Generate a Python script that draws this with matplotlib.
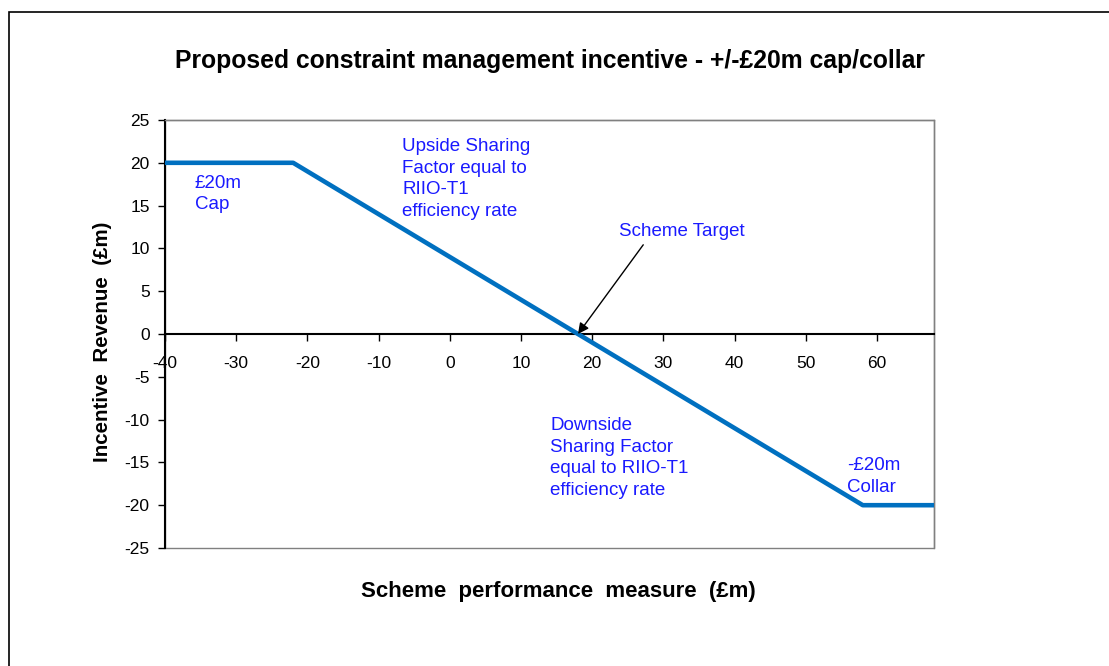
import matplotlib
matplotlib.use("Agg")
import matplotlib.pyplot as plt
from matplotlib.patches import Rectangle

plt.rcParams['font.family'] = ['Liberation Sans', 'DejaVu Sans']
plt.rcParams['axes.unicode_minus'] = False

# Data
perf_x = [-40, -22, 58, 68]
revenue_y = [20, 20, -20, -20]
x_ticks = [-40, -30, -20, -10, 0, 10, 20, 30, 40, 50, 60]
y_ticks = [25, 20, 15, 10, 5, 0, -5, -10, -15, -20, -25]
target_x = 18
target_y = 0

title = "Proposed constraint management incentive - +/-\u00a320m cap/collar"
xlabel = "Scheme  performance  measure  (\u00a3m)"
ylabel = "Incentive  Revenue  (\u00a3m)"

blue_txt = "#1a1aff"
line_col = "#0070C0"
ann_fs = 13.5
ls = 1.36

fig = plt.figure(figsize=(11.09, 6.66), dpi=100)
# outer chart border
fig.patches.append(Rectangle((9/1109, -0.1), 1.2, 1 - 12/666 + 0.1, transform=fig.transFigure,
                             fill=False, edgecolor='black', linewidth=1.2))

ax = fig.add_axes([165/1109, 1 - 548/666, (934-165)/1109, (548-120)/666])

ax.plot(perf_x, revenue_y, color=line_col, linewidth=3.3, solid_capstyle='butt', zorder=3)

ax.set_xlim(-40, 68)
ax.set_ylim(-25, 25)
ax.set_xticks(x_ticks)
ax.set_yticks(y_ticks)
ax.tick_params(axis='both', labelsize=12.5, length=5, width=1, direction='out', colors='black')
ax.tick_params(axis='x', pad=11)
ax.tick_params(axis='y', pad=6)

for s in ['top', 'right']:
    ax.spines[s].set_color('#808080')
    ax.spines[s].set_linewidth(1)
ax.spines['left'].set_color('black')
ax.spines['left'].set_linewidth(1.5)
ax.spines['bottom'].set_position(('data', 0))
ax.spines['bottom'].set_color('black')
ax.spines['bottom'].set_linewidth(1.5)
ax.add_patch(Rectangle((0, 0), 1, 1, transform=ax.transAxes, fill=False,
                       edgecolor='#808080', linewidth=1, clip_on=False, zorder=0))

fig.text(550/1109, 1 - 61/666, title, ha='center', va='center', fontsize=17.8, fontweight='bold')
fig.text(558/1109, 1 - 592/666, xlabel, ha='center', va='center', fontsize=16, fontweight='bold')
fig.text(103/1109, 1 - 342/666, ylabel, ha='center', va='center', fontsize=14.8, fontweight='bold',
         rotation=90)

ax.text(-35.8, 18.6, "\u00a320m\nCap", color=blue_txt, fontsize=ann_fs, va='top', ha='left', linespacing=ls)
ax.text(-6.7, 22.9, "Upside Sharing\nFactor equal to\nRIIO-T1\nefficiency rate", color=blue_txt,
        fontsize=ann_fs, va='top', ha='left', linespacing=ls)
ax.text(55.8, -14.4, "-\u00a320m\nCollar", color=blue_txt, fontsize=ann_fs, va='top', ha='left', linespacing=ls)
ax.text(14.1, -9.7, "Downside\nSharing Factor\nequal to RIIO-T1\nefficiency rate", color=blue_txt,
        fontsize=ann_fs, va='top', ha='left', linespacing=ls)
ax.annotate("Scheme Target", xy=(target_x, target_y), xytext=(23.8, 12.0), color=blue_txt, fontsize=ann_fs,
            ha='left', va='center',
            arrowprops=dict(arrowstyle='-|>', color='black', lw=1, mutation_scale=16,
                            shrinkA=2, shrinkB=0, relpos=(0.22, 0)))

fig.savefig("out.png", dpi=100)
